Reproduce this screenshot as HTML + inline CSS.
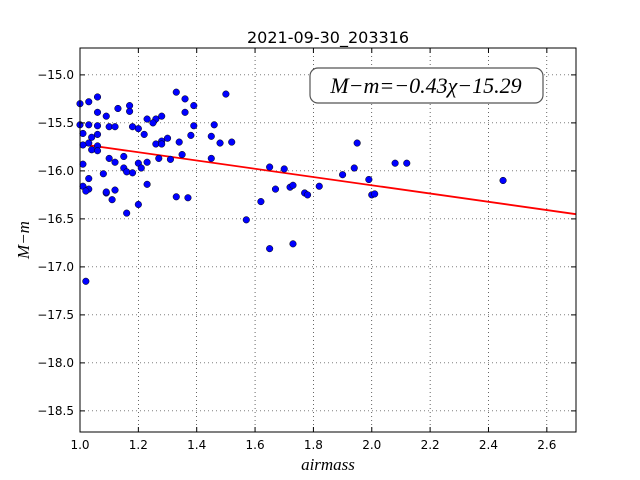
<!DOCTYPE html>
<html><head><meta charset="utf-8"><style>
body{margin:0;background:#fff;}
svg{display:block;font-family:"DejaVu Sans","Liberation Sans",sans-serif;}
</style></head><body>
<svg id="chart" width="640" height="480" viewBox="0 0 640 480">
<rect width="640" height="480" fill="#fff"/>
<text x="328" y="43" text-anchor="middle" font-size="16">2021-09-30_203316</text>
<g id="grid"></g>
<g id="line"></g>
<g id="points"></g>
<rect x="80" y="48" width="496" height="384" fill="none" stroke="#000" stroke-width="1"/>
<g id="ticks"></g>
<text x="328" y="470" text-anchor="middle" font-size="17" font-style="italic" font-family="Liberation Serif, serif">airmass</text>
<text transform="translate(29,240) rotate(-90)" text-anchor="middle" font-size="17" font-style="italic" font-family="Liberation Serif, serif">M−m</text>
<g>
<rect x="310" y="68" width="233" height="35" rx="8" fill="#fff" stroke="#555" stroke-width="1.2"/>
<text x="426" y="93" text-anchor="middle" font-size="22" font-style="italic" font-family="Liberation Serif, serif">M−m=−0.43χ−15.29</text>
</g>
</svg>
<script>
const xs=[1.00,1.03,1.06,1.06,1.09,1.13,1.17,1.17,1.00,1.03,1.06,1.10,1.12,1.01,1.06,1.04,1.03,1.01,1.06,1.04,1.06,1.18,1.20,1.22,1.23,1.26,1.25,1.28,1.33,1.36,1.39,1.36,1.39,1.38,1.50,1.46,1.45,1.48,1.52,1.26,1.28,1.30,1.28,1.34,1.01,1.10,1.12,1.15,1.20,1.23,1.27,1.31,1.35,1.45,1.15,1.16,1.18,1.21,1.08,1.03,1.01,1.03,1.02,1.09,1.09,1.12,1.11,1.23,1.20,1.33,1.37,1.16,1.02,1.57,1.62,1.65,1.65,1.67,1.70,1.72,1.73,1.73,1.77,1.78,1.82,1.90,1.94,1.95,1.99,2.00,2.01,2.08,2.12,2.45];
const ys=[-15.30,-15.28,-15.23,-15.39,-15.43,-15.35,-15.32,-15.38,-15.52,-15.52,-15.53,-15.54,-15.54,-15.61,-15.62,-15.65,-15.71,-15.73,-15.74,-15.78,-15.79,-15.54,-15.56,-15.62,-15.46,-15.46,-15.50,-15.43,-15.18,-15.25,-15.32,-15.39,-15.53,-15.63,-15.20,-15.52,-15.64,-15.71,-15.70,-15.72,-15.69,-15.66,-15.72,-15.70,-15.93,-15.87,-15.91,-15.85,-15.92,-15.91,-15.87,-15.88,-15.83,-15.87,-15.97,-16.01,-16.02,-15.97,-16.03,-16.08,-16.16,-16.19,-16.21,-16.23,-16.22,-16.20,-16.30,-16.14,-16.35,-16.27,-16.28,-16.44,-17.15,-16.51,-16.32,-16.81,-15.96,-16.19,-15.98,-16.17,-16.15,-16.76,-16.23,-16.25,-16.16,-16.04,-15.97,-15.71,-16.09,-16.25,-16.24,-15.92,-15.92,-16.10];
const slope=-0.43, intercept=-15.29;
const xTicks=[1.0,1.2,1.4,1.6,1.8,2.0,2.2,2.4,2.6];
const yTicks=[-15.0,-15.5,-16.0,-16.5,-17.0,-17.5,-18.0,-18.5];
const X0=80,X1=576,Y0=48,Y1=432,xmin=1.0,xmax=2.7,ymin=-18.72,ymax=-14.72;
const sx=v=>X0+(v-xmin)/(xmax-xmin)*(X1-X0);
const sy=v=>Y0+(ymax-v)/(ymax-ymin)*(Y1-Y0);
const NS="http://www.w3.org/2000/svg";
function mk(tag,attrs,parent){const e=document.createElementNS(NS,tag);for(const k in attrs)e.setAttribute(k,attrs[k]);parent.appendChild(e);return e;}
const grid=document.getElementById('grid'),ticks=document.getElementById('ticks');
xTicks.forEach(t=>{const x=sx(t);
const g=mk('line',{x1:x,x2:x,y1:Y0,y2:Y1,stroke:'#000','stroke-dasharray':'1,3','stroke-width':0.6},grid);


const tk=mk('line',{x1:x,x2:x,y1:Y1,y2:Y1-5,stroke:'#000'},ticks);


const tk2=mk('line',{x1:x,x2:x,y1:Y0,y2:Y0+5,stroke:'#000'},ticks);


const l=mk('text',{x:x,y:Y1+17,'text-anchor':'middle','font-size':12},ticks);l.textContent=t.toFixed(1);

});
yTicks.forEach(t=>{const y=sy(t);
const g=mk('line',{x1:X0,x2:X1,y1:y,y2:y,stroke:'#000','stroke-dasharray':'1,3','stroke-width':0.6},grid);


const tk=mk('line',{x1:X0,x2:X0+5,y1:y,y2:y,stroke:'#000'},ticks);


const tk2=mk('line',{x1:X1,x2:X1-5,y1:y,y2:y,stroke:'#000'},ticks);


const l=mk('text',{x:X0-6,y:y+4,'text-anchor':'end','font-size':12},ticks);l.textContent='−'+Math.abs(t).toFixed(1);

});
const fl=mk('line',{x1:sx(xmin),y1:sy(slope*xmin+intercept),x2:sx(xmax),y2:sy(slope*xmax+intercept),stroke:'#f00','stroke-width':1.8},document.getElementById('line'));


const pg=document.getElementById('points');
xs.forEach((v,i)=>{const c=mk('circle',{cx:sx(v),cy:sy(ys[i]),r:3.3,fill:'#0000ff',stroke:'#000','stroke-width':0.5},pg);

});
</script>
</body></html>
